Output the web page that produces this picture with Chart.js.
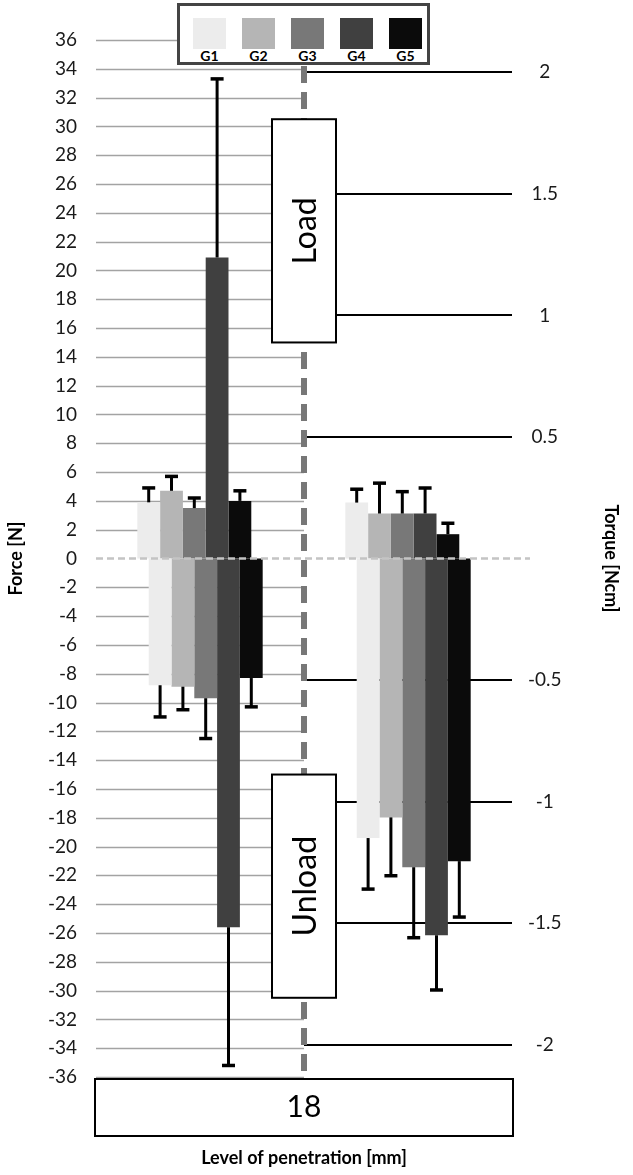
<!DOCTYPE html>
<html lang="en">
<head>
<meta charset="UTF-8">
<title>Force and torque at 18 mm penetration</title>
<script src="https://cdn.jsdelivr.net/npm/chart.js"></script>
<style>
  body { margin: 0; background: #fff; font-family: Lato, sans-serif; }
  #wrap { position: relative; width: 633px; height: 1175px; }
  #legend {
    position: absolute; left: 177px; top: 3px; width: 253px; height: 62px;
    box-sizing: border-box; border: 3px solid #444; background: #fff;
    display: flex; gap: 16px; padding: 12px 0 0 13px;
  }
  .item { width: 33px; text-align: center; }
  .swatch { width: 33px; height: 31px; }
  .item span { display: block; font-family: Lato, sans-serif; font-weight: 700; font-size: 14px; line-height: 13px; margin-top: 0; color: #000; }
</style>
</head>
<body>
<div id="wrap">
  <canvas id="chart" width="633" height="1175"></canvas>
  <div id="legend"></div>
</div>
<script>
// groups and their fills
const groups = ['G1', 'G2', 'G3', 'G4', 'G5'];
const groupColors = ['#ececec', '#b5b5b5', '#787878', '#404040', '#0b0b0b'];

// force [N] (left axis)
const forceLoad = [3.9, 4.7, 3.5, 20.9, 4.0];
const forceLoadErr = [1.0, 1.0, 0.7, 12.4, 0.7];
const forceUnload = [-8.8, -8.9, -9.7, -25.6, -8.3];
const forceUnloadErr = [2.2, 1.6, 2.8, 9.6, 2.0];

// torque [Ncm] (right axis)
const torqueLoad = [0.23, 0.185, 0.185, 0.185, 0.10];
const torqueLoadErr = [0.055, 0.125, 0.09, 0.105, 0.045];
const torqueUnload = [-1.15, -1.065, -1.27, -1.55, -1.245];
const torqueUnloadErr = [0.21, 0.24, 0.29, 0.225, 0.23];

// axes
const forceTicks = [36, 34, 32, 30, 28, 26, 24, 22, 20, 18, 16, 14, 12, 10, 8, 6, 4, 2, 0,
  -2, -4, -6, -8, -10, -12, -14, -16, -18, -20, -22, -24, -26, -28, -30, -32, -34, -36];
const torqueTicks = [2, 1.5, 1, 0.5, -0.5, -1, -1.5, -2];
const forceMax = 36;
const torqueMax = 2.133;
const penetration = ['18'];
const sides = ['Force', 'Torque'];

// label boxes (force units)
const loadBox = [15, 30.5];
const unloadBox = [-30.5, -15];

Chart.defaults.font.family = 'Lato';

// html legend
const legend = document.getElementById('legend');
groups.forEach((g, i) => {
  const item = document.createElement('div');
  item.className = 'item';
  item.innerHTML = '<div class="swatch" style="background:' + groupColors[i] + '"></div><span>' + g + '</span>';
  legend.appendChild(item);
});

// datasets: load and unload interleaved per group, force in slot 0, torque in slot 1
const datasets = [];
function addSide(sideIndex, axisId, load, loadErr, unload, unloadErr) {
  groups.forEach((g, i) => {
    [[load, loadErr, 'load'], [unload, unloadErr, 'unload']].forEach(([vals, errs, kind]) => {
      const data = [null, null];
      const err = [null, null];
      data[sideIndex] = vals[i];
      err[sideIndex] = errs[i];
      datasets.push({
        label: g + ' ' + kind,
        data: data,
        errors: err,
        yAxisID: axisId,
        backgroundColor: groupColors[i],
        borderWidth: 0,
        skipNull: true,
        categoryPercentage: 0.548,
        barPercentage: 2.0
      });
    });
  });
}
addSide(0, 'y', forceLoad, forceLoadErr, forceUnload, forceUnloadErr);
addSide(1, 'y2', torqueLoad, torqueLoadErr, torqueUnload, torqueUnloadErr);

const decor = {
  id: 'decor',
  beforeDatasetsDraw(chart) {
    const { ctx, chartArea: a, scales } = chart;
    const mid = (a.left + a.right) / 2;
    ctx.save();
    // grey grid, left half
    ctx.strokeStyle = '#a3a3a3';
    ctx.lineWidth = 1.5;
    forceTicks.forEach(v => {
      if (v === 0) return;
      const y = Math.round(scales.y.getPixelForValue(v)) + 0.5;
      ctx.beginPath(); ctx.moveTo(a.left, y); ctx.lineTo(mid, y); ctx.stroke();
    });
    // torque tick lines, right half
    ctx.strokeStyle = '#000';
    ctx.lineWidth = 2;
    torqueTicks.forEach(v => {
      const y = Math.round(scales.y2.getPixelForValue(v));
      ctx.beginPath(); ctx.moveTo(mid, y); ctx.lineTo(a.right, y); ctx.stroke();
    });
    // dashed divider
    ctx.strokeStyle = '#777';
    ctx.lineWidth = 6;
    ctx.setLineDash([17, 9]);
    ctx.beginPath(); ctx.moveTo(mid, a.top); ctx.lineTo(mid, a.bottom); ctx.stroke();
    ctx.setLineDash([]);
    // load / unload boxes
    [[loadBox, 'Load'], [unloadBox, 'Unload']].forEach(([r, txt]) => {
      const y1 = scales.y.getPixelForValue(r[1]);
      const y2 = scales.y.getPixelForValue(r[0]);
      const w = 64;
      ctx.fillStyle = '#fff';
      ctx.fillRect(mid - w / 2, y1, w, y2 - y1);
      ctx.strokeStyle = '#000';
      ctx.lineWidth = 2;
      ctx.strokeRect(mid - w / 2, y1, w, y2 - y1);
      ctx.save();
      ctx.translate(mid + 2, (y1 + y2) / 2);
      ctx.rotate(-Math.PI / 2);
      ctx.fillStyle = '#000';
      ctx.font = '32px Lato';
      ctx.textAlign = 'center';
      ctx.textBaseline = 'middle';
      ctx.fillText(txt, 0, 0);
      ctx.restore();
    });
    // category box
    const xl = scales.xl;
    ctx.strokeStyle = '#000';
    ctx.lineWidth = 2;
    ctx.strokeRect(xl.left - 1, xl.top + 2, xl.right - xl.left + 2, 57);
    ctx.restore();
  },
  afterDatasetsDraw(chart) {
    const { ctx, chartArea: a } = chart;
    ctx.save();
    // error bars
    ctx.strokeStyle = '#000';
    chart.data.datasets.forEach((ds, di) => {
      const meta = chart.getDatasetMeta(di);
      const yScale = chart.scales[ds.yAxisID];
      meta.data.forEach((bar, j) => {
        const v = ds.data[j];
        if (v === null) return;
        const end = yScale.getPixelForValue(v + Math.sign(v) * ds.errors[j]);
        ctx.lineWidth = 3;
        ctx.beginPath(); ctx.moveTo(bar.x, bar.y); ctx.lineTo(bar.x, end); ctx.stroke();
        ctx.lineWidth = 3.5;
        ctx.beginPath(); ctx.moveTo(bar.x - 6.5, end); ctx.lineTo(bar.x + 6.5, end); ctx.stroke();
      });
    });
    // zero line
    const y0 = chart.scales.y.getPixelForValue(0);
    ctx.strokeStyle = '#c4c4c4';
    ctx.lineWidth = 2.5;
    ctx.setLineDash([7, 4]);
    ctx.beginPath(); ctx.moveTo(a.left, y0); ctx.lineTo(a.right + 18, y0); ctx.stroke();
    ctx.restore();
  }
};

new Chart(document.getElementById('chart'), {
  type: 'bar',
  data: { labels: sides, datasets: datasets },
  options: {
    responsive: false,
    animation: false,
    events: [],
    layout: { padding: { top: 40, left: 0, right: 0, bottom: 0 } },
    plugins: { legend: { display: false }, tooltip: { enabled: false } },
    scales: {
      x: {
        type: 'category',
        labels: sides,
        display: false,
        offset: true
      },
      xl: {
        type: 'category',
        labels: penetration,
        position: 'bottom',
        offset: true,
        grid: { display: false, drawTicks: false },
        border: { display: false },
        ticks: { font: { size: 30 }, color: '#000', padding: 12 },
        title: { display: true, text: 'Level of penetration [mm]', color: '#000',
          font: { size: 18, weight: 'bold' }, padding: { top: 0, bottom: 6 } },
        afterFit(scale) { scale.height = 98; }
      },
      y: {
        position: 'left',
        min: -forceMax,
        max: forceMax,
        afterBuildTicks(scale) { scale.ticks = forceTicks.map(v => ({ value: v })); },
        grid: { display: false, drawTicks: false },
        border: { display: false },
        ticks: { font: { size: 19 }, color: '#1a1a1a', padding: 19 },
        title: { display: true, text: 'Force [N]', color: '#000',
          font: { size: 18, weight: 'bold' }, padding: { top: 5 } },
        afterFit(scale) { scale.width = 96; }
      },
      y2: {
        position: 'right',
        min: -torqueMax,
        max: torqueMax,
        afterBuildTicks(scale) { scale.ticks = torqueTicks.map(v => ({ value: v })); },
        grid: { display: false, drawTicks: false },
        border: { display: false },
        ticks: { font: { size: 19 }, color: '#1a1a1a', padding: 16, crossAlign: 'center',
          callback: v => String(v) },
        title: { display: true, text: 'Torque [Ncm]', color: '#000',
          font: { size: 18, weight: 'bold' }, padding: { top: 11 } },
        afterFit(scale) { scale.width = 121; }
      }
    }
  },
  plugins: [decor]
});
</script>
</body>
</html>
